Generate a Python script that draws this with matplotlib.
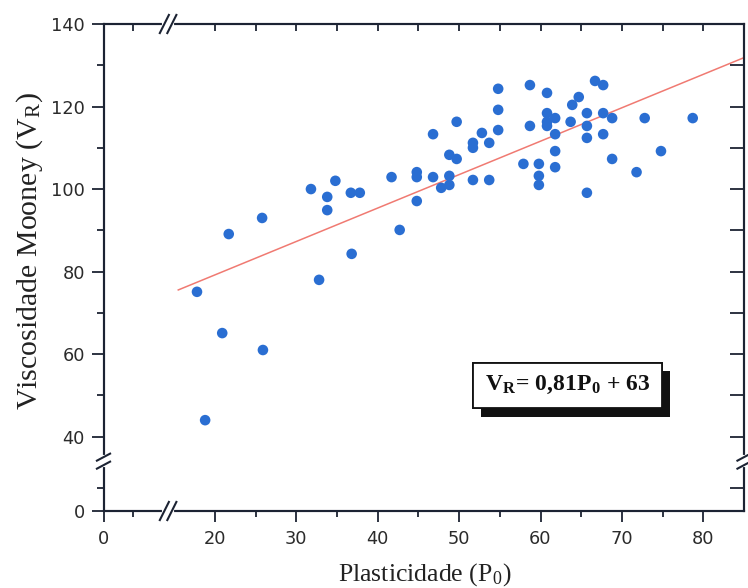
import numpy as np
import matplotlib
matplotlib.use('Agg')
import matplotlib.pyplot as plt
from matplotlib import patheffects
from matplotlib.lines import Line2D
from matplotlib.transforms import IdentityTransform

# Plasticidade (P0) x Viscosidade Mooney (VR)
plast = [17.8, 18.8, 20.9, 21.7, 25.8, 25.9, 31.8, 32.8, 33.8, 33.8,
         34.8, 36.7, 37.8, 36.8, 41.7, 42.7, 44.8, 44.8, 44.8, 46.8,
         46.8, 47.8, 48.8, 48.8, 48.8, 49.7, 49.7, 51.7, 51.7, 51.7,
         52.8, 53.7, 53.7, 54.8, 54.8, 54.8, 57.9, 58.7, 58.7, 59.8,
         59.8, 59.8, 60.8, 60.8, 60.8, 60.8, 61.8, 61.8, 61.8, 61.8,
         63.7, 63.9, 64.7, 65.7, 65.7, 65.7, 65.7, 66.7, 67.7, 67.7,
         67.7, 68.8, 68.8, 71.8, 72.8, 74.8, 78.7]
visc = [75.1, 44.0, 65.1, 89.1, 93.0, 61.0, 100.0, 78.0, 98.1, 94.9,
        102.0, 99.1, 99.1, 84.3, 102.9, 90.1, 104.1, 102.9, 97.1, 113.3,
        102.9, 100.3, 108.3, 103.2, 101.0, 116.3, 107.3, 111.2, 110.0, 102.2,
        113.6, 111.2, 102.2, 124.3, 119.2, 114.3, 106.1, 125.2, 115.3, 106.1,
        103.2, 101.0, 123.3, 118.4, 116.3, 115.3, 117.2, 113.3, 109.2, 105.3,
        116.3, 120.4, 122.3, 118.4, 115.3, 112.4, 99.1, 126.2, 125.2, 118.4,
        113.3, 117.2, 107.3, 104.1, 117.2, 109.2, 117.2]

# linear fit shown on the chart
slope, intercept = 0.81, 63
fit_x = np.array([15.5, 85])

xticks_major = [0, 20, 30, 40, 50, 60, 70, 80]
xticks_minor = [5, 25, 35, 45, 55, 65, 75]
yticks_major = [0, 40, 60, 80, 100, 120, 140]
yticks_minor = [10, 50, 70, 90, 110, 130]

# broken axes: piecewise linear mapping (data -> pixels inside the axes)
x_knots = [-100, 0, 10, 15, 85, 200]
x_pix = [-585, 0, 58.5, 70.7, 640.5, 1576.6]
y_knots = [-100, 0, 20, 35, 140, 300]
y_pix = [-230, 0, 46, 53.7, 487, 1147.3]


def fx(v):
    return np.interp(v, x_knots, x_pix)


def fx_inv(v):
    return np.interp(v, x_pix, x_knots)


def fy(v):
    return np.interp(v, y_knots, y_pix)


def fy_inv(v):
    return np.interp(v, y_pix, y_knots)


plt.rcParams['mathtext.fontset'] = 'stix'
W, H = 748, 588
rect = [103.5 / W, (H - 511) / H, 640.5 / W, 487 / H]
fig = plt.figure(figsize=(W / 100, H / 100), dpi=100)
ax = fig.add_axes(rect)
ax.set_xscale('function', functions=(fx, fx_inv))
ax.set_yscale('function', functions=(fy, fy_inv))
ax.set_xlim(0, 85)
ax.set_ylim(0, 140)

ax.plot(fit_x, slope * fit_x + intercept, color='#f07a72', lw=1.1, zorder=2)
ax.scatter(plast, visc, s=58, color='#2a6ed2', edgecolors='none', zorder=3)

axis_col = '#1c2333'
ax.set_xticks(xticks_major)
ax.set_xticks(xticks_minor, minor=True)
ax.set_yticks(yticks_major)
ax.set_yticks(yticks_minor, minor=True)
for sp in ax.spines.values():
    sp.set_color(axis_col)
    sp.set_linewidth(1.5)
ax.tick_params(which='both', direction='out', color=axis_col, width=1.3,
               labelsize=12.8, labelcolor='#2b2b2b')
ax.tick_params(axis='x', which='major', length=8, pad=5.5)
ax.tick_params(axis='x', which='minor', length=4)
ax.tick_params(axis='y', which='major', length=9, pad=4.5)
ax.tick_params(axis='y', which='minor', length=5)

# overlay sharing both axes: top and right ticks point inward
ax2 = fig.add_axes(rect, sharex=ax, sharey=ax)
ax2.patch.set_visible(False)
ax2.tick_params(axis='x', which='both', direction='in', length=5, width=1.3,
                color=axis_col, top=True, bottom=False, labelbottom=False)
ax2.tick_params(axis='y', which='both', direction='in', length=10, width=1.3,
                color=axis_col, right=True, left=False, labelleft=False)
for sp in ax2.spines.values():
    sp.set_color(axis_col)
    sp.set_linewidth(1.5)

ax.set_xlabel('Plasticidade (P$_\\mathregular{0}$)', family='Liberation Serif',
              fontsize=18.5, color='#222222')
ax.set_ylabel('Viscosidade Mooney (V$_\\mathregular{R}$)', family='Liberation Serif',
              fontsize=21.5, color='#222222')
ax.xaxis.set_label_coords(0.502, -0.103)
ax.yaxis.set_label_coords(-0.092, 0.534)

eq = ax2.text(0.7245, 0.258, 'V$_\\mathregular{R}$= 0,81P$_\\mathregular{0}$ + 63',
              transform=ax2.transAxes, ha='center', va='center',
              family='Liberation Serif', fontweight='bold', fontsize=17,
              color='#111111', zorder=5,
              bbox=dict(boxstyle='square,pad=0.5', fc='white', ec='#111111', lw=1.3))
eq.get_bbox_patch().set_path_effects([
    patheffects.withSimplePatchShadow(offset=(6, -6), shadow_rgbFace='#111111', alpha=1),
    patheffects.Normal()])


# axis break marks "//"
def slash_pair(cx, cy, dx, dy, sep, horiz):
    # white gap in the axis line, then two slashes
    if horiz:
        gap = ([cx - sep / 2, cx + sep / 2], [cy, cy])
        offs = [(-sep / 2, 0), (sep / 2, 0)]
    else:
        gap = ([cx, cx], [cy - sep / 2, cy + sep / 2])
        offs = [(0, -sep / 2), (0, sep / 2)]
    fig.add_artist(Line2D(gap[0], gap[1], color='white', lw=3,
                          transform=IdentityTransform(), zorder=10))
    for ox, oy in offs:
        fig.add_artist(Line2D([cx + ox - dx, cx + ox + dx], [cy + oy - dy, cy + oy + dy],
                              color=axis_col, lw=1.5, solid_capstyle='butt',
                              transform=IdentityTransform(), zorder=11))


bx, by0 = ax.transData.transform((12.5, 0))
_, by1 = ax.transData.transform((12.5, 140))
slash_pair(bx, by0, 5, 10, 7.5, True)
slash_pair(bx, by1, 5, 10, 7.5, True)
lx, ly = ax.transData.transform((0, 27.5))
rx, _ = ax.transData.transform((85, 27.5))
slash_pair(lx, ly, 7.5, 4, 8, False)
slash_pair(rx, ly, 7.5, 4, 8, False)

fig.savefig('out.png', dpi=100)
